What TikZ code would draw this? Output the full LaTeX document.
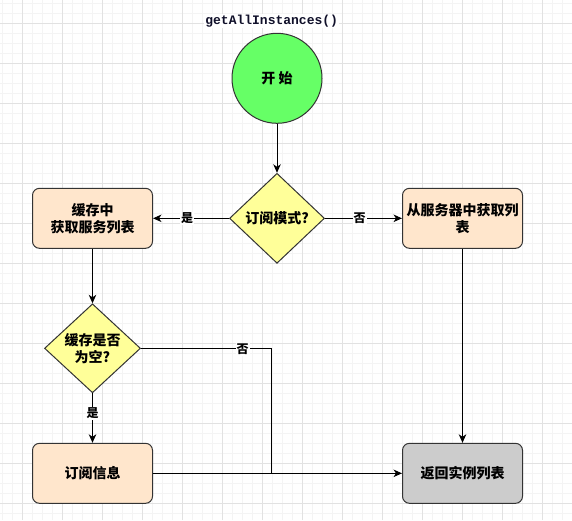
\documentclass[tikz,border=0pt]{standalone}
\usepackage{fontspec}
\newfontfamily\cjk{Noto Sans CJK SC}
\newfontfamily\monof{Liberation Mono}
\usetikzlibrary{shapes.geometric,arrows.meta}
\definecolor{gridmajor}{HTML}{E2E2E2}
\definecolor{gridminor}{HTML}{F4F4F4}
\definecolor{startgreen}{HTML}{66FF66}
\definecolor{boxorange}{HTML}{FFE6CC}
\definecolor{decyellow}{HTML}{FFFF99}
\definecolor{endgray}{HTML}{CCCCCC}
\definecolor{strokegray}{HTML}{333333}
\definecolor{titlenavy}{HTML}{10102A}
\tikzset{
  txt/.style={font=\cjk\bfseries\fontsize{14}{17}\selectfont, align=center},
  procbox/.style={txt, draw=strokegray, line width=1pt, rounded corners=7pt,
    minimum width=120pt, minimum height=60pt, inner sep=0pt},
  decision/.style={txt, draw=strokegray, line width=1pt, shape=diamond, fill=decyellow,
    minimum width=95pt, minimum height=90pt, aspect=1.05, inner sep=0pt},
  conn/.style={line width=1pt, draw=black, -{Stealth[length=8.5pt,width=7.5pt,inset=2.5pt]}},
  plainconn/.style={line width=1pt, draw=black},
  lbl/.style={font=\cjk\bfseries\fontsize{12}{14}\selectfont, fill=white, inner sep=1pt}
}
\begin{document}
\begin{tikzpicture}[x=1pt,y=-1pt]
\useasboundingbox (0,0) rectangle (572,520);
\fill[white] (0,0) rectangle (572,520);
% grid
\foreach \gx in {2,12,...,572} \draw[gridminor, line width=0.8pt] (\gx,0) -- (\gx,520);
\foreach \gy in {3.3,13.3,...,520} \draw[gridminor, line width=0.8pt] (0,\gy) -- (572,\gy);
\foreach \gx in {22,62,...,572} \draw[gridmajor, line width=0.8pt] (\gx,0) -- (\gx,520);
\foreach \gy in {23.3,63.3,...,520} \draw[gridmajor, line width=0.8pt] (0,\gy) -- (572,\gy);

% title
\node[font=\monof\bfseries\fontsize{13}{15}\selectfont, text=titlenavy, fill=white, inner sep=1pt] (title) at (271.7,20.7) {getAllInstances()};

% nodes
\node[txt, circle, draw=strokegray, line width=1pt, fill=startgreen, minimum size=90pt, inner sep=0pt] (start) at (277,78.3) {开 始};
\node[decision] (d1) at (277,218.3) {订阅模式?};
\node[procbox, fill=boxorange] (b1) at (92.5,218.3) {缓存中\\获取服务列表};
\node[procbox, fill=boxorange] (b2) at (462.5,218.3) {从服务器中获取列\\表};
\node[decision, minimum width=96pt, minimum height=89pt] (d2) at (92.5,348.3) {缓存是否\\为空?};
\node[procbox, fill=boxorange] (b3) at (92.5,473.3) {订阅信息};
\node[procbox, fill=endgray] (b4) at (462.5,473.3) {返回实例列表};
\coordinate (j1) at (271,348.3);
\coordinate (j2) at (271,473.3);

% connectors
\draw[conn] (start) -- (d1);
\draw[conn] (d1) -- node[lbl, pos=0.55] (l1) {是} (b1);
\draw[conn] (d1) -- node[lbl, pos=0.45] (l2) {否} (b2);
\draw[conn] (b1) -- (d2);
\draw[conn] (d2) -- node[lbl, pos=0.4] (l3) {是} (b3);
\draw[conn] (b2) -- (b4);
\draw[conn] (b3) -- (b4);
\draw[plainconn] (d2.east) -- (j1) -- (j2);
\node[lbl] (l4) at (242.7,349.3) {否};
\end{tikzpicture}
\end{document}
